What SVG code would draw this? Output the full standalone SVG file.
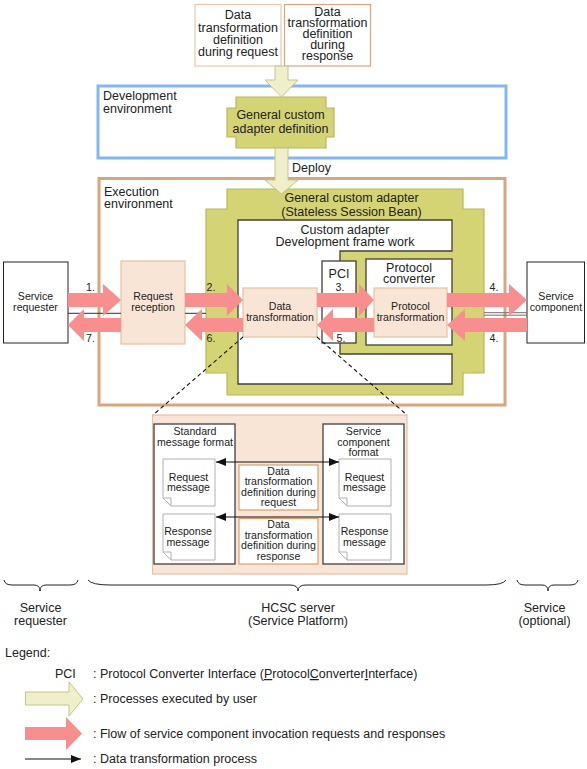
<svg xmlns="http://www.w3.org/2000/svg" width="587" height="769" viewBox="0 0 587 769">
<style>
text{font-family:"Liberation Sans",Arial,sans-serif;fill:#222}
.L{font-size:12.5px}
.S{font-size:10.6px}
.m{text-anchor:middle}
.peach{fill:#f9e5d5;stroke:#e6c0a0;stroke-width:1.2}
.wbox{fill:#fff;stroke:#404040;stroke-width:1.3}
.doc{fill:#fff;stroke:#b0b0b0;stroke-width:1}
.pink{fill:#f88e8e}
.yel{fill:#efefca;stroke:#c4c48c;stroke-width:1}
.green{fill:#d4d474;stroke:#b8b858;stroke-width:1.2}
.dash{fill:none;stroke:#111;stroke-width:1.1;stroke-dasharray:4 3}
.brace{fill:none;stroke:#222;stroke-width:1}
</style>
<defs>
<marker id="ah" viewBox="0 0 10 8" refX="10" refY="4" markerWidth="10" markerHeight="8" markerUnits="userSpaceOnUse" orient="auto-start-reverse">
<path d="M0,0 L10,4 L0,8 Z" fill="#111"/>
</marker>
</defs>

<g id="def-request">
<rect x="195" y="4.5" width="86" height="61.5" fill="#fff" stroke="#ecc8aa" stroke-width="1.2"/>
<text class="L m" x="238" y="19.3">Data</text>
<text class="L m" x="238" y="31.7">transformation</text>
<text class="L m" x="238" y="44">definition</text>
<text class="L m" x="238" y="56.4">during request</text>
</g>
<g id="def-response">
<rect x="284.5" y="4.5" width="86" height="61.5" fill="#fff" stroke="#dca57c" stroke-width="1.2"/>
<text class="L m" x="327.5" y="15.6">Data</text>
<text class="L m" x="327.5" y="27">transformation</text>
<text class="L m" x="327.5" y="38">definition</text>
<text class="L m" x="327.5" y="49">during</text>
<text class="L m" x="327.5" y="60">response</text>
</g>

<g id="dev-env">
<rect x="98" y="86" width="408" height="72" fill="#fff" stroke="#80b8f2" stroke-width="3"/>
<text class="L" x="103" y="100">Development</text>
<text class="L" x="103" y="112.5">environment</text>
</g>
<g id="gca-def">
<path class="green" d="M236,97 H326 V108 H334 V137 H326 V148 H236 V137 H227 V108 H236 Z"/>
<text class="L m" x="280.5" y="118.5">General custom</text>
<text class="L m" x="280.5" y="132.5">adapter definition</text>
</g>

<g id="exec-env">
<rect x="99" y="178.5" width="406" height="226.5" fill="#fff" stroke="#d6a67c" stroke-width="3"/>
<text class="L" x="104" y="196">Execution</text>
<text class="L" x="104" y="208">environment</text>
</g>

<g id="gca">
<path class="green" d="M227,189 H463 V209 H484 V373 H463 V395 H227 V373 H206 V209 H227 Z"/>
<text class="L m" x="351.5" y="201.5">General custom adapter</text>
<text class="L m" x="351.5" y="215.5">(Stateless Session Bean)</text>
</g>
<g id="framework">
<path class="wbox" d="M238,220 H452 V251 H340 V354 H452 V384 H238 Z"/>
<text class="L m" x="345" y="233.5">Custom adapter</text>
<text class="L m" x="345" y="245.5">Development frame work</text>
</g>
<g id="pci">
<rect class="wbox" x="322" y="261" width="34" height="82"/>
<text class="L m" x="339" y="278">PCI</text>
</g>
<g id="protocol-converter">
<rect class="wbox" x="366" y="259" width="86" height="86"/>
<text class="L m" x="409" y="271.5">Protocol</text>
<text class="L m" x="409" y="283">converter</text>
</g>
<g id="protocol-transformation">
<rect class="peach" x="374" y="288" width="73" height="49"/>
<text class="S m" x="410.5" y="309.5">Protocol</text>
<text class="S m" x="410.5" y="320.5">transformation</text>
</g>
<g id="data-transformation">
<rect class="peach" x="243" y="288" width="74" height="49"/>
<text class="S m" x="280" y="309.5">Data</text>
<text class="S m" x="280" y="320.5">transformation</text>
</g>
<g id="request-reception">
<rect class="peach" x="121" y="261" width="64" height="83"/>
<text class="S m" x="153" y="299.5">Request</text>
<text class="S m" x="153" y="310.5">reception</text>
</g>
<g id="service-requester">
<rect x="3.5" y="262" width="64.5" height="81" fill="#fff" stroke="#222" stroke-width="1"/>
<text class="S m" x="35.5" y="299.5">Service</text>
<text class="S m" x="35.5" y="310.5">requester</text>
</g>
<g id="service-component">
<rect x="527" y="262" width="57.5" height="81" fill="#fff" stroke="#222" stroke-width="1"/>
<text class="S m" x="556" y="299.5">Service</text>
<text class="S m" x="556" y="310.5">component</text>
</g>

<g id="detail">
<rect class="peach" x="152.5" y="415" width="254.5" height="159"/>
<rect class="wbox" x="154" y="424" width="81" height="140"/>
<text class="S m" x="195" y="435">Standard</text>
<text class="S m" x="195" y="446">message format</text>
<rect class="wbox" x="323" y="424" width="81" height="140"/>
<text class="S m" x="363.5" y="435">Service</text>
<text class="S m" x="363.5" y="445.5">component</text>
<text class="S m" x="363.5" y="456">format</text>
<g id="doc-req-std">
<path class="doc" d="M163,459 H215 V506 H171 L163,498 Z M163,498 H171 V506"/>
<text class="S m" x="188.5" y="480.5">Request</text>
<text class="S m" x="188.5" y="491">message</text>
</g>
<g id="doc-res-std">
<path class="doc" d="M163,514 H215 V560 H171 L163,552 Z M163,552 H171 V560"/>
<text class="S m" x="188" y="535">Response</text>
<text class="S m" x="188" y="545.5">message</text>
</g>
<g id="doc-req-svc">
<path class="doc" d="M339,459 H391 V506 H347 L339,498 Z M339,498 H347 V506"/>
<text class="S m" x="364.5" y="480.5">Request</text>
<text class="S m" x="364.5" y="491">message</text>
</g>
<g id="doc-res-svc">
<path class="doc" d="M339,514 H391 V560 H347 L339,552 Z M339,552 H347 V560"/>
<text class="S m" x="364.5" y="535">Response</text>
<text class="S m" x="364.5" y="545.5">message</text>
</g>
<g id="dtd-request">
<rect x="239" y="465" width="79" height="45" fill="#fff" stroke="#d8a070" stroke-width="1.2"/>
<text class="S m" x="278.5" y="474.5">Data</text>
<text class="S m" x="278.5" y="485">transformation</text>
<text class="S m" x="278.5" y="495.5">definition during</text>
<text class="S m" x="278.5" y="505.5">request</text>
</g>
<g id="dtd-response">
<rect x="239" y="518.5" width="79" height="45.5" fill="#fff" stroke="#d8a070" stroke-width="1.2"/>
<text class="S m" x="278.5" y="528">Data</text>
<text class="S m" x="278.5" y="538.5">transformation</text>
<text class="S m" x="278.5" y="549">definition during</text>
<text class="S m" x="278.5" y="559.5">response</text>
</g>
</g>

<g id="connectors">
<path d="M68,313.3 H121 M185,313.3 H206" stroke="#303030" stroke-width="1" fill="none"/>
<path d="M484,312.7 H527 M484,315.2 H527" stroke="#707070" stroke-width="1" fill="none"/>
<path class="pink" d="M68,293 H103 V284 L121,300 L103,316 V307 H68 Z"/>
<path class="pink" d="M121,318 H84 V309 L68,325 L84,341 V332 H121 Z"/>
<path class="pink" d="M185,293 H227 V284 L243,300 L227,316 V307 H185 Z"/>
<path class="pink" d="M243,318 H202 V309 L185,325 L202,341 V332 H243 Z"/>
<path class="pink" d="M317,293 H359 V284 L374,300 L359,316 V307 H317 Z"/>
<path class="pink" d="M374,318 H333 V309 L317,325 L333,341 V332 H374 Z"/>
<path class="pink" d="M447,293 H509 V284 L527,300 L509,316 V307 H447 Z"/>
<path class="pink" d="M527,318 H465 V309 L447,325 L465,341 V332 H527 Z"/>
<path class="yel" d="M275,66 H288 V80 H298 L281.5,97 L265,80 H275 Z"/>
<path class="yel" d="M275,148 H288 V180 H298 L281.5,194 L265,180 H275 Z"/>
<path class="dash" d="M243,337 L153,415 M317,337 L407,415"/>
<path d="M216,462 H339" stroke="#111" stroke-width="1.1" marker-start="url(#ah)" marker-end="url(#ah)"/>
<path d="M216,517 H339" stroke="#111" stroke-width="1.1" marker-start="url(#ah)" marker-end="url(#ah)"/>
</g>

<g id="labels">
<text class="L" x="292" y="172">Deploy</text>
<text class="S m" x="90.5" y="291">1.</text>
<text class="S m" x="90.5" y="341.5">7.</text>
<text class="S m" x="211" y="291">2.</text>
<text class="S m" x="211" y="341.5">6.</text>
<text class="S m" x="340" y="291">3.</text>
<text class="S m" x="341" y="341.5">5.</text>
<text class="S m" x="494" y="291">4.</text>
<text class="S m" x="494" y="341.5">4.</text>
</g>

<g id="braces">
<path class="brace" d="M4,580 Q5,585 12,585 H34 Q40,585 40,591 Q40,585 46,585 H70 Q77,585 78,580"/>
<path class="brace" d="M88,580 Q92,585 110,585 H290 Q298,585 298,591 Q298,585 306,585 H486 Q503,585 506,580"/>
<path class="brace" d="M517,580 Q518,585 525,585 H542 Q548,585 548,591 Q548,585 554,585 H570 Q577,585 578,580"/>
<text class="L m" x="40.5" y="612">Service</text>
<text class="L m" x="40.5" y="625">requester</text>
<text class="L m" x="298" y="612">HCSC server</text>
<text class="L m" x="298" y="625">(Service Platform)</text>
<text class="L m" x="544.5" y="612">Service</text>
<text class="L m" x="544.5" y="625">(optional)</text>
</g>

<g id="legend">
<text class="L" x="5" y="657">Legend:</text>
<text class="L" x="55" y="678">PCI</text>
<text class="L" x="93" y="678">: Protocol Converter Interface (<tspan style="text-decoration:underline">P</tspan>rotocol<tspan style="text-decoration:underline">C</tspan>onverter<tspan style="text-decoration:underline">I</tspan>nterface)</text>
<path class="yel" d="M25.5,692 H69 V682 L83,699 L69,716 V705 H25.5 Z"/>
<text class="L" x="93" y="702.5">: Processes executed by user</text>
<path class="pink" d="M25,727 H66 V717 L82,733.5 L66,750 V740 H25 Z"/>
<text class="L" x="93" y="737.5">: Flow of service component invocation requests and responses</text>
<path d="M25,759 H81" stroke="#111" stroke-width="1.1" marker-end="url(#ah)"/>
<text class="L" x="93" y="763">: Data transformation process</text>
</g>
</svg>
